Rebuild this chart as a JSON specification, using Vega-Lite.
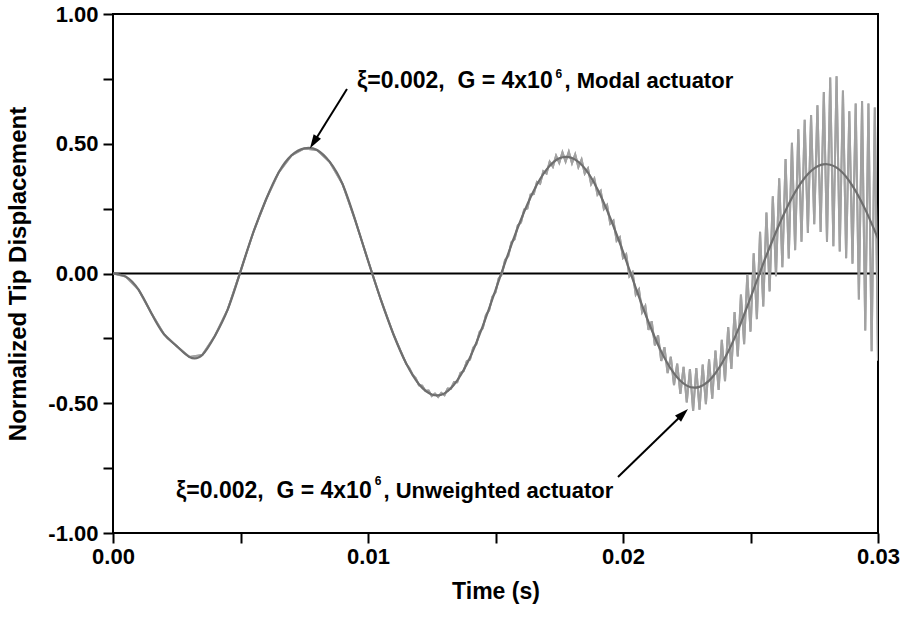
{
  "$schema": "https://vega.github.io/schema/vega-lite/v6.json",
  "width": 765,
  "height": 519,
  "autosize": {"type": "none"},
  "padding": {"left": 113, "top": 14, "right": 27, "bottom": 85},
  "background": "white",
  "config": {"view": {"stroke": "black", "strokeWidth": 2}},
  "datasets": {
    "modal": [
      {"t": 0, "v": 0}, {"t": 0.0005, "v": -0.012}, {"t": 0.001, "v": -0.062}, {"t": 0.0015, "v": -0.152},
      {"t": 0.002, "v": -0.234}, {"t": 0.0025, "v": -0.28}, {"t": 0.003, "v": -0.322}, {"t": 0.0035, "v": -0.314},
      {"t": 0.004, "v": -0.24}, {"t": 0.0045, "v": -0.138}, {"t": 0.005, "v": 0.008}, {"t": 0.0055, "v": 0.158},
      {"t": 0.006, "v": 0.285}, {"t": 0.0065, "v": 0.39}, {"t": 0.007, "v": 0.455}, {"t": 0.0075, "v": 0.482},
      {"t": 0.008, "v": 0.476}, {"t": 0.0085, "v": 0.43}, {"t": 0.009, "v": 0.345}, {"t": 0.0095, "v": 0.205},
      {"t": 0.01, "v": 0.05}, {"t": 0.0105, "v": -0.1}, {"t": 0.011, "v": -0.235}, {"t": 0.0115, "v": -0.347},
      {"t": 0.012, "v": -0.427}, {"t": 0.0125, "v": -0.466}, {"t": 0.013, "v": -0.462}, {"t": 0.0135, "v": -0.412},
      {"t": 0.014, "v": -0.324}, {"t": 0.0145, "v": -0.203}, {"t": 0.015, "v": -0.064}, {"t": 0.0155, "v": 0.077},
      {"t": 0.016, "v": 0.208}, {"t": 0.0165, "v": 0.319}, {"t": 0.017, "v": 0.4}, {"t": 0.0175, "v": 0.444},
      {"t": 0.018, "v": 0.445}, {"t": 0.0185, "v": 0.405}, {"t": 0.019, "v": 0.325}, {"t": 0.0195, "v": 0.214},
      {"t": 0.02, "v": 0.084}, {"t": 0.0205, "v": -0.055}, {"t": 0.021, "v": -0.187}, {"t": 0.0215, "v": -0.301},
      {"t": 0.022, "v": -0.385}, {"t": 0.0225, "v": -0.432}, {"t": 0.023, "v": -0.437}, {"t": 0.0235, "v": -0.4},
      {"t": 0.024, "v": -0.325}, {"t": 0.0245, "v": -0.22}, {"t": 0.025, "v": -0.094}, {"t": 0.0255, "v": 0.038},
      {"t": 0.026, "v": 0.16}, {"t": 0.0265, "v": 0.268}, {"t": 0.027, "v": 0.352}, {"t": 0.0275, "v": 0.405},
      {"t": 0.028, "v": 0.421}, {"t": 0.0285, "v": 0.399}, {"t": 0.029, "v": 0.338}, {"t": 0.0295, "v": 0.247},
      {"t": 0.03, "v": 0.135}
    ],
    "unweighted": [
      {"t": 0, "v": 0}, {"t": 0.0005, "v": -0.012}, {"t": 0.001, "v": -0.062}, {"t": 0.0015, "v": -0.152},
      {"t": 0.002, "v": -0.234}, {"t": 0.0025, "v": -0.28}, {"t": 0.003, "v": -0.322}, {"t": 0.0035, "v": -0.314},
      {"t": 0.004, "v": -0.24}, {"t": 0.0045, "v": -0.138}, {"t": 0.005, "v": 0.008}, {"t": 0.0055, "v": 0.158},
      {"t": 0.006, "v": 0.285}, {"t": 0.0065, "v": 0.39}, {"t": 0.007, "v": 0.455}, {"t": 0.0075, "v": 0.482},
      {"t": 0.008, "v": 0.476}, {"t": 0.0085, "v": 0.43}, {"t": 0.009, "v": 0.345}, {"t": 0.0095, "v": 0.205},
      {"t": 0.01, "v": 0.05}, {"t": 0.0105, "v": -0.1}, {"t": 0.011, "v": -0.235},
      {"t": 0.0115, "v": -0.349}, {"t": 0.011625, "v": -0.365}, {"t": 0.01175, "v": -0.39}, {"t": 0.011875, "v": -0.404},
      {"t": 0.012, "v": -0.431}, {"t": 0.012125, "v": -0.432}, {"t": 0.01225, "v": -0.452}, {"t": 0.012375, "v": -0.451},
      {"t": 0.0125, "v": -0.472}, {"t": 0.012625, "v": -0.463}, {"t": 0.01275, "v": -0.476}, {"t": 0.012875, "v": -0.46},
      {"t": 0.013, "v": -0.469}, {"t": 0.013125, "v": -0.443}, {"t": 0.01325, "v": -0.444}, {"t": 0.013375, "v": -0.418},
      {"t": 0.0135, "v": -0.419}, {"t": 0.013625, "v": -0.383}, {"t": 0.01375, "v": -0.376}, {"t": 0.013875, "v": -0.338},
      {"t": 0.014, "v": -0.332}, {"t": 0.014125, "v": -0.286}, {"t": 0.01425, "v": -0.272}, {"t": 0.014375, "v": -0.225},
      {"t": 0.0145, "v": -0.211}, {"t": 0.014625, "v": -0.16}, {"t": 0.01475, "v": -0.142}, {"t": 0.014875, "v": -0.09},
      {"t": 0.015, "v": -0.073}, {"t": 0.015125, "v": -0.019}, {"t": 0.01525, "v": -0.003}, {"t": 0.015375, "v": 0.052},
      {"t": 0.0155, "v": 0.067}, {"t": 0.015625, "v": 0.12}, {"t": 0.01575, "v": 0.132}, {"t": 0.015875, "v": 0.186},
      {"t": 0.016, "v": 0.197}, {"t": 0.016125, "v": 0.247}, {"t": 0.01625, "v": 0.251}, {"t": 0.016375, "v": 0.304},
      {"t": 0.0165, "v": 0.306}, {"t": 0.016625, "v": 0.353}, {"t": 0.01675, "v": 0.346}, {"t": 0.016875, "v": 0.394},
      {"t": 0.017, "v": 0.385}, {"t": 0.017125, "v": 0.431}, {"t": 0.01725, "v": 0.411}, {"t": 0.017375, "v": 0.454},
      {"t": 0.0175, "v": 0.426}, {"t": 0.017625, "v": 0.467}, {"t": 0.01775, "v": 0.431}, {"t": 0.017875, "v": 0.469},
      {"t": 0.018, "v": 0.425}, {"t": 0.018125, "v": 0.459}, {"t": 0.01825, "v": 0.41}, {"t": 0.018375, "v": 0.439},
      {"t": 0.0185, "v": 0.385}, {"t": 0.018625, "v": 0.405}, {"t": 0.01875, "v": 0.344}, {"t": 0.018875, "v": 0.366},
      {"t": 0.019, "v": 0.304}, {"t": 0.019125, "v": 0.319}, {"t": 0.01925, "v": 0.248}, {"t": 0.019375, "v": 0.264},
      {"t": 0.0195, "v": 0.192}, {"t": 0.019625, "v": 0.204}, {"t": 0.01975, "v": 0.126}, {"t": 0.019875, "v": 0.14},
      {"t": 0.02, "v": 0.06}, {"t": 0.020125, "v": 0.074}, {"t": 0.02025, "v": -0.011}, {"t": 0.020375, "v": 0.005},
      {"t": 0.0205, "v": -0.081}, {"t": 0.020625, "v": -0.061}, {"t": 0.02075, "v": -0.149}, {"t": 0.020875, "v": -0.125},
      {"t": 0.021, "v": -0.217}, {"t": 0.021125, "v": -0.184}, {"t": 0.02125, "v": -0.277}, {"t": 0.021375, "v": -0.238},
      {"t": 0.0215, "v": -0.337}, {"t": 0.021625, "v": -0.284}, {"t": 0.02175, "v": -0.384}, {"t": 0.021875, "v": -0.321},
      {"t": 0.022, "v": -0.43}, {"t": 0.022125, "v": -0.347}, {"t": 0.02225, "v": -0.464}, {"t": 0.022375, "v": -0.36},
      {"t": 0.0225, "v": -0.497}, {"t": 0.022625, "v": -0.368}, {"t": 0.02275, "v": -0.53}, {"t": 0.022875, "v": -0.364},
      {"t": 0.023, "v": -0.525}, {"t": 0.023125, "v": -0.351}, {"t": 0.02325, "v": -0.504}, {"t": 0.023375, "v": -0.331},
      {"t": 0.0235, "v": -0.482}, {"t": 0.023625, "v": -0.297}, {"t": 0.02375, "v": -0.449}, {"t": 0.023875, "v": -0.256},
      {"t": 0.024, "v": -0.415}, {"t": 0.024125, "v": -0.206}, {"t": 0.02425, "v": -0.368}, {"t": 0.024375, "v": -0.149},
      {"t": 0.0245, "v": -0.32}, {"t": 0.024625, "v": -0.081}, {"t": 0.02475, "v": -0.272}, {"t": 0.024875, "v": -0.003},
      {"t": 0.025, "v": -0.224}, {"t": 0.025125, "v": 0.078}, {"t": 0.02525, "v": -0.176}, {"t": 0.025375, "v": 0.161},
      {"t": 0.0255, "v": -0.127}, {"t": 0.025625, "v": 0.235}, {"t": 0.02575, "v": -0.069}, {"t": 0.025875, "v": 0.298},
      {"t": 0.026, "v": -0.01}, {"t": 0.026125, "v": 0.367}, {"t": 0.02625, "v": 0.024}, {"t": 0.026375, "v": 0.441},
      {"t": 0.0265, "v": 0.058}, {"t": 0.026625, "v": 0.504}, {"t": 0.02675, "v": 0.09}, {"t": 0.026875, "v": 0.556},
      {"t": 0.027, "v": 0.122}, {"t": 0.027125, "v": 0.592}, {"t": 0.02725, "v": 0.156}, {"t": 0.027375, "v": 0.611},
      {"t": 0.0275, "v": 0.19}, {"t": 0.027625, "v": 0.648}, {"t": 0.02775, "v": 0.16}, {"t": 0.027875, "v": 0.699},
      {"t": 0.028, "v": 0.121}, {"t": 0.028125, "v": 0.755}, {"t": 0.02825, "v": 0.105}, {"t": 0.028375, "v": 0.76},
      {"t": 0.0285, "v": 0.085}, {"t": 0.028625, "v": 0.705}, {"t": 0.02875, "v": 0.059}, {"t": 0.028875, "v": 0.625},
      {"t": 0.029, "v": 0.038}, {"t": 0.029125, "v": 0.655}, {"t": 0.02925, "v": -0.1}, {"t": 0.029375, "v": 0.665},
      {"t": 0.0295, "v": -0.22}, {"t": 0.029625, "v": 0.655}, {"t": 0.02975, "v": -0.3}, {"t": 0.029875, "v": 0.64},
      {"t": 0.03, "v": -0.335}
    ]
  },
  "layer": [
    {
      "data": {"name": "unweighted"},
      "mark": {"type": "line", "color": "#a2a2a2", "strokeWidth": 2, "clip": true},
      "encoding": {
        "x": {
          "field": "t", "type": "quantitative",
          "scale": {"domain": [0, 0.03], "nice": false, "zero": false},
          "axis": {
            "values": [0, 0.005, 0.01, 0.015, 0.02, 0.025, 0.03],
            "labelExpr": "abs(datum.value*100 - round(datum.value*100)) < 0.000001 ? format(datum.value, '.2f') : ''",
            "domain": false, "grid": false,
            "tickSize": 10, "tickWidth": 2, "tickColor": "black",
            "labelFont": "Liberation Sans", "labelFontWeight": "bold", "labelFontSize": 22, "labelColor": "black",
            "labelPadding": 3, "labelFlush": false, "labelOverlap": false, "labelBound": false,
            "title": "Time (s)", "titleFont": "Liberation Sans", "titleFontWeight": "bold", "titleFontSize": 23,
            "titleColor": "black", "titlePadding": 13,
            "encode": {"ticks": {"update": {"y2": {"signal": "abs(datum.value*100 - round(datum.value*100)) < 0.000001 ? 10 : 5"}}}}
          }
        },
        "y": {
          "field": "v", "type": "quantitative",
          "scale": {"domain": [-1, 1], "nice": false, "zero": false},
          "axis": {
            "values": [-1, -0.75, -0.5, -0.25, 0, 0.25, 0.5, 0.75, 1],
            "labelExpr": "abs(datum.value*2 - round(datum.value*2)) < 0.000001 ? (datum.value < 0 ? '-' : '') + format(abs(datum.value), '.2f') : ''",
            "domain": false, "grid": false,
            "tickSize": 10, "tickWidth": 2, "tickColor": "black",
            "labelFont": "Liberation Sans", "labelFontWeight": "bold", "labelFontSize": 22, "labelColor": "black",
            "labelPadding": 5, "labelFlush": false, "labelOverlap": false, "labelBound": false,
            "title": "Normalized Tip Displacement", "titleFont": "Liberation Sans", "titleFontWeight": "bold", "titleFontSize": 24,
            "titleColor": "black", "titlePadding": 17,
            "encode": {"ticks": {"update": {"x2": {"signal": "abs(datum.value*2 - round(datum.value*2)) < 0.000001 ? -10 : -6"}}}}
          }
        }
      }
    },
    {
      "data": {"values": [{}]},
      "mark": {"type": "rule", "color": "black", "strokeWidth": 1.8},
      "encoding": {
        "y": {"datum": 0, "type": "quantitative"}
      }
    },
    {
      "data": {"name": "unweighted"},
      "mark": {"type": "line", "color": "#a2a2a2", "strokeWidth": 2, "clip": true},
      "encoding": {
        "x": {"field": "t", "type": "quantitative"},
        "y": {"field": "v", "type": "quantitative"}
      }
    },
    {
      "data": {"name": "modal"},
      "mark": {"type": "line", "color": "#6e6e6e", "strokeWidth": 2.2, "interpolate": "natural", "clip": true},
      "encoding": {
        "x": {"field": "t", "type": "quantitative"},
        "y": {"field": "v", "type": "quantitative"}
      }
    },
    {
      "data": {"values": [{}]},
      "mark": {"type": "rule", "color": "black", "strokeWidth": 2},
      "encoding": {
        "x": {"datum": 0.009176, "type": "quantitative"},
        "x2": {"datum": 0.007851},
        "y": {"datum": 0.711, "type": "quantitative"},
        "y2": {"datum": 0.5021}
      }
    },
    {
      "data": {"values": [{}]},
      "mark": {"type": "point", "shape": "M0,0L-0.5,1.6L0.5,1.6Z", "filled": true, "color": "black", "opacity": 1, "size": 300, "angle": 212},
      "encoding": {
        "x": {"datum": 0.007725, "type": "quantitative"},
        "y": {"datum": 0.4825, "type": "quantitative"}
      }
    },
    {
      "data": {"values": [{}]},
      "mark": {"type": "rule", "color": "black", "strokeWidth": 2},
      "encoding": {
        "x": {"datum": 0.019804, "type": "quantitative"},
        "x2": {"datum": 0.02238},
        "y": {"datum": -0.7842, "type": "quantitative"},
        "y2": {"datum": -0.5383}
      }
    },
    {
      "data": {"values": [{}]},
      "mark": {"type": "point", "shape": "M0,0L-0.5,1.6L0.5,1.6Z", "filled": true, "color": "black", "opacity": 1, "size": 300, "angle": 46},
      "encoding": {
        "x": {"datum": 0.022549, "type": "quantitative"},
        "y": {"datum": -0.5222, "type": "quantitative"}
      }
    },
    {
      "data": {"values": [{}]},
      "mark": {"type": "text", "text": "ξ=0.002,\u00a0 G = 4x10", "align": "right", "baseline": "alphabetic", "font": "Liberation Sans", "fontWeight": "bold", "fontSize": 23, "color": "black"},
      "encoding": {
        "x": {"datum": 0.017243, "type": "quantitative"},
        "y": {"datum": 0.7148, "type": "quantitative"}
      }
    },
    {
      "data": {"values": [{}]},
      "mark": {"type": "text", "text": "6", "align": "left", "baseline": "alphabetic", "font": "Liberation Sans", "fontWeight": "bold", "fontSize": 12, "color": "black"},
      "encoding": {
        "x": {"datum": 0.017353, "type": "quantitative"},
        "y": {"datum": 0.7522, "type": "quantitative"}
      }
    },
    {
      "data": {"values": [{}]},
      "mark": {"type": "text", "text": ", Modal actuator", "align": "left", "baseline": "alphabetic", "font": "Liberation Sans", "fontWeight": "bold", "fontSize": 22, "color": "black"},
      "encoding": {
        "x": {"datum": 0.017706, "type": "quantitative"},
        "y": {"datum": 0.7148, "type": "quantitative"}
      }
    },
    {
      "data": {"values": [{}]},
      "mark": {"type": "text", "text": "ξ=0.002,\u00a0 G = 4x10", "align": "right", "baseline": "alphabetic", "font": "Liberation Sans", "fontWeight": "bold", "fontSize": 23, "color": "black"},
      "encoding": {
        "x": {"datum": 0.010145, "type": "quantitative"},
        "y": {"datum": -0.8663, "type": "quantitative"}
      }
    },
    {
      "data": {"values": [{}]},
      "mark": {"type": "text", "text": "6", "align": "left", "baseline": "alphabetic", "font": "Liberation Sans", "fontWeight": "bold", "fontSize": 12, "color": "black"},
      "encoding": {
        "x": {"datum": 0.010267, "type": "quantitative"},
        "y": {"datum": -0.815, "type": "quantitative"}
      }
    },
    {
      "data": {"values": [{}]},
      "mark": {"type": "text", "text": ", Unweighted actuator", "align": "left", "baseline": "alphabetic", "font": "Liberation Sans", "fontWeight": "bold", "fontSize": 22, "color": "black"},
      "encoding": {
        "x": {"datum": 0.010608, "type": "quantitative"},
        "y": {"datum": -0.8663, "type": "quantitative"}
      }
    }
  ]
}
